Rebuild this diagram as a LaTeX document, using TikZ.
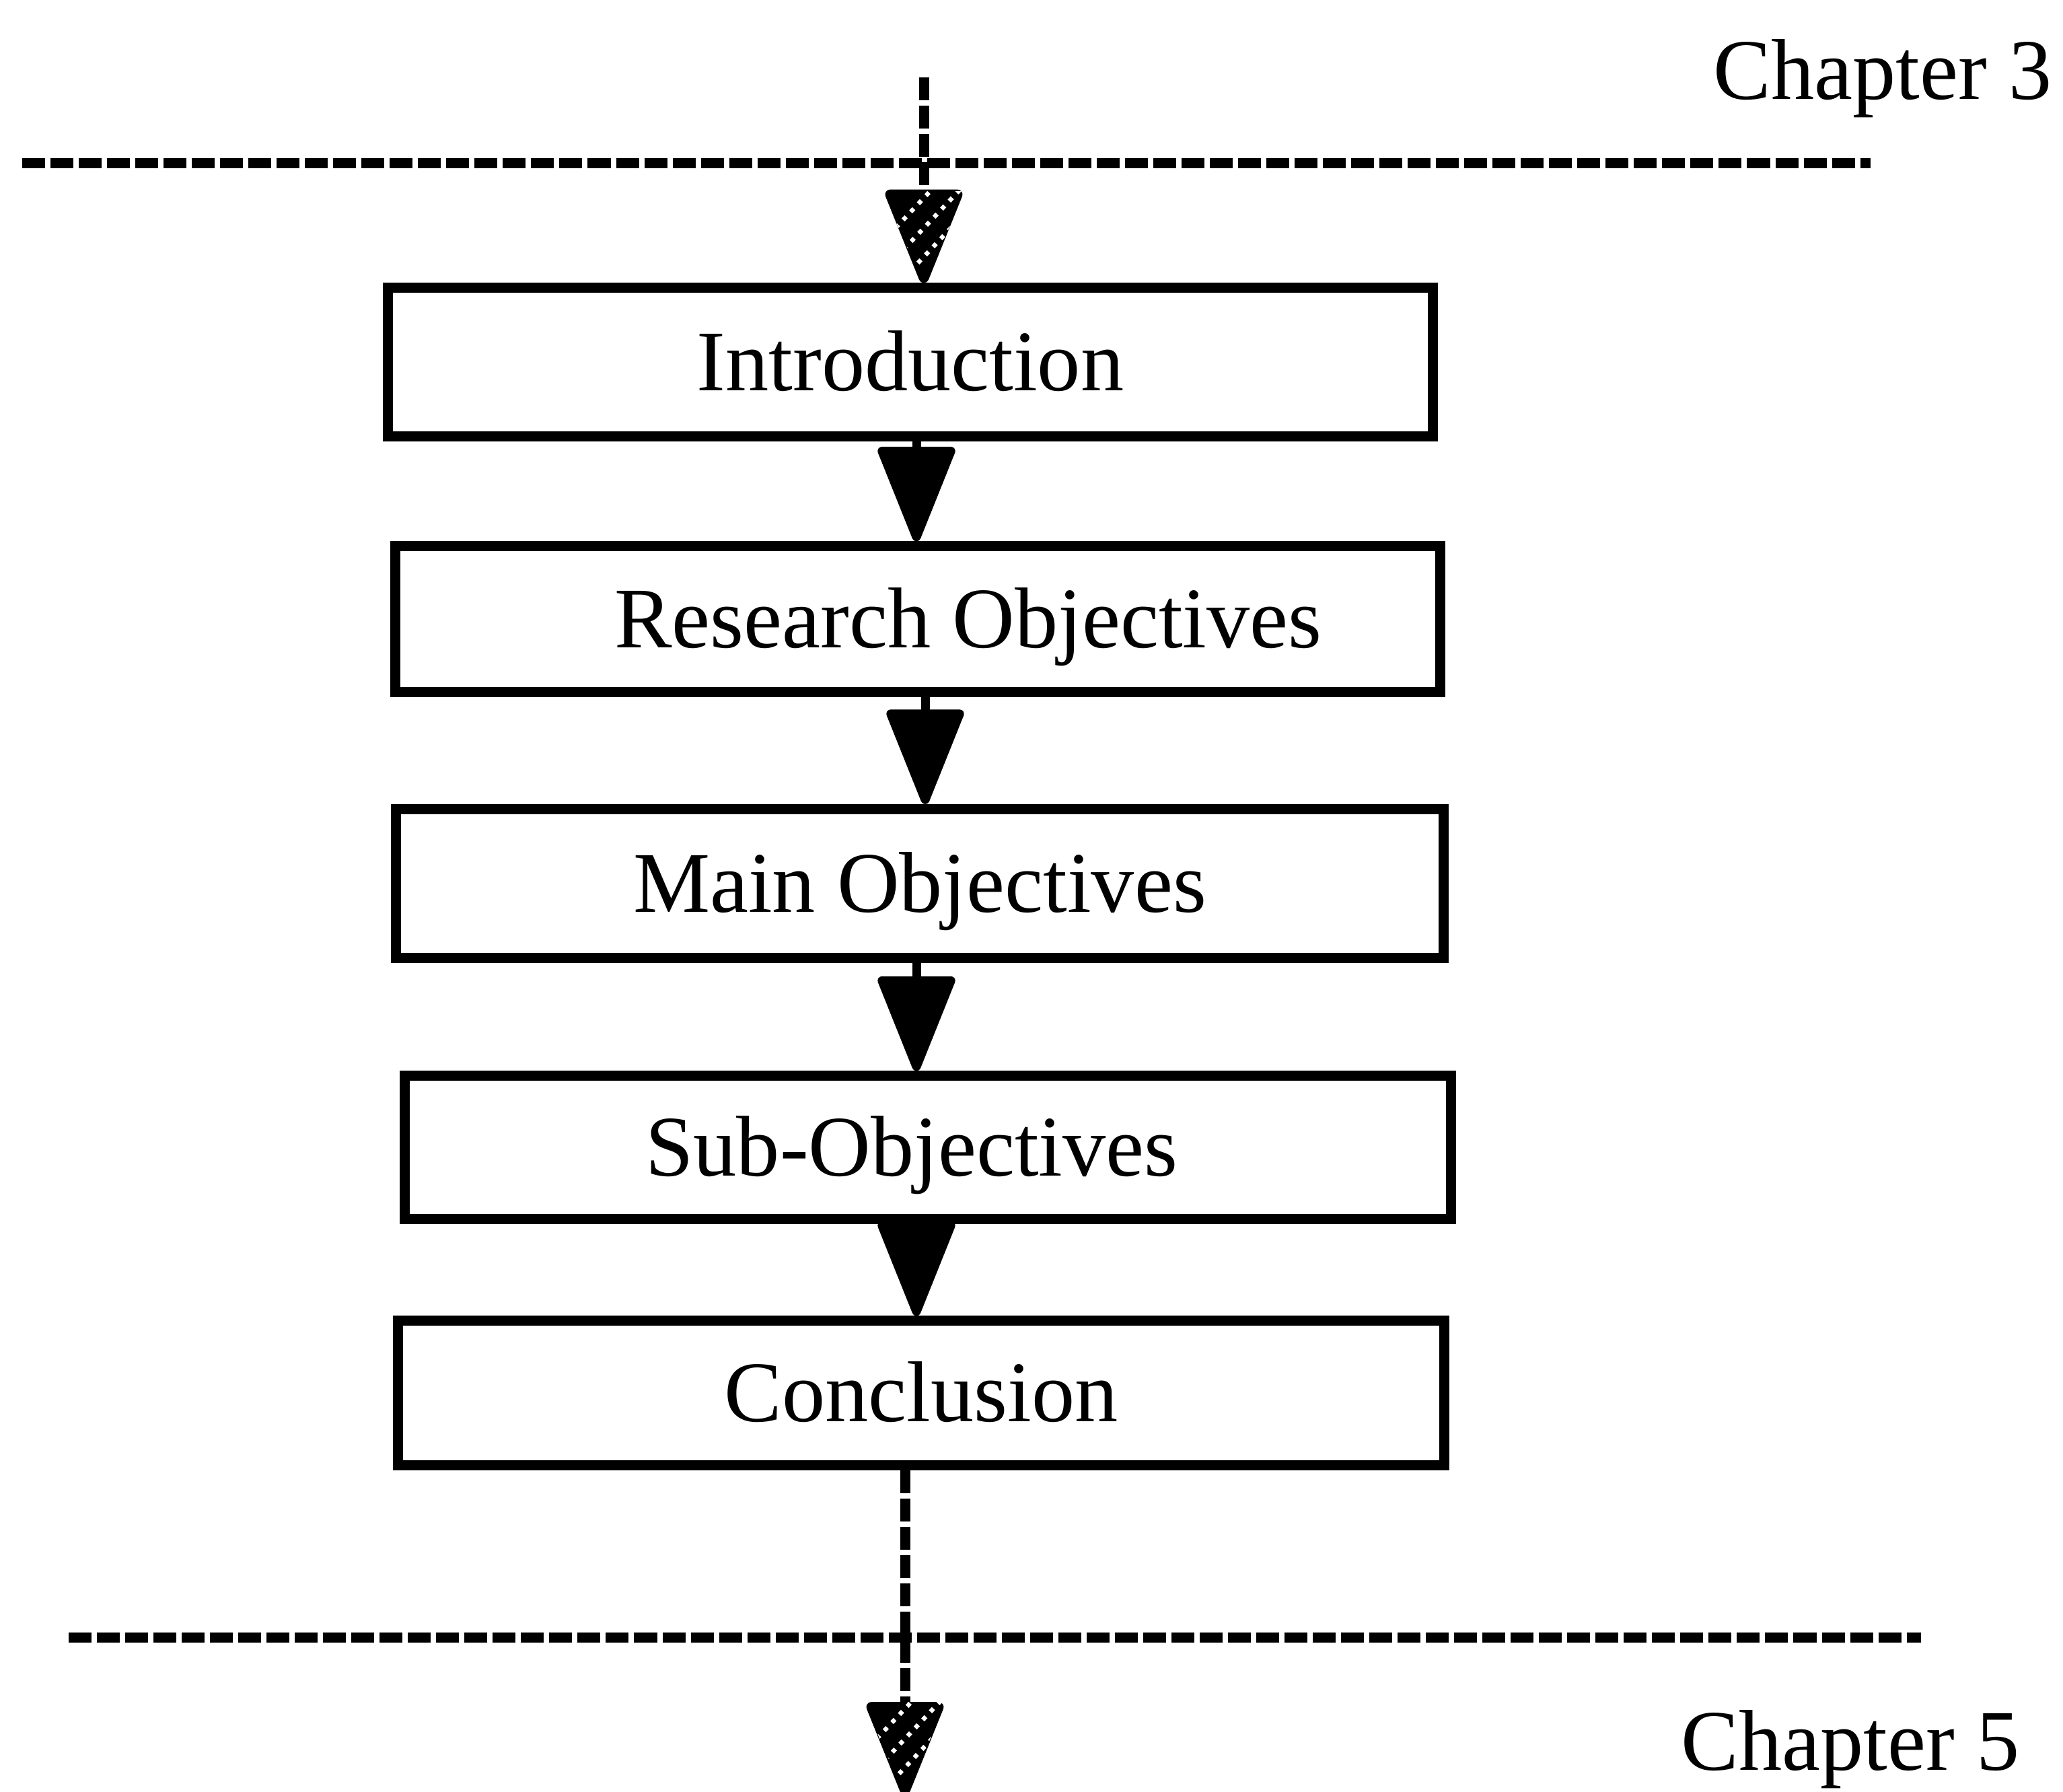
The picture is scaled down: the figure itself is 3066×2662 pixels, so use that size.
\documentclass[tikz,border=0pt]{standalone}
\usepackage{fontspec}
\setmainfont{Liberation Serif}
\usetikzlibrary{arrows.meta}

% white dotted hatching inside a downward arrow head: #1 = axis x, #2 = top y, #3 = apex y
\newcommand\hatchhead[3]{%
  \begin{scope}
    \clip (#1-62,#2-4) -- (#1+62,#2-4) -- (#1,#3) -- cycle;
    \foreach \dx/\dy in {-30/38,-18/70,-8/102}
      \draw[hatch] (#1+\dx-80,#2+\dy+85) -- (#1+\dx+80,#2+\dy-85);
  \end{scope}}

\begin{document}
\begin{tikzpicture}[x=0.01cm, y=-0.01cm,
  txt/.style={font=\fontsize{36.5}{40}\selectfont},
  box/.style={txt, draw, line width=0.15cm, inner sep=0pt,
              text height=24pt, text depth=0pt},
  head/.style={-{Triangle[width=1.18cm,length=1.52cm,round]}},
  flow/.style={line width=0.13cm, head},
  sep/.style={line width=0.15cm, dash pattern=on 0.34cm off 0.08cm},
  feed/.style={sep, head},
  hatch/.style={white, line width=0.065cm, dash pattern=on 0.065cm off 0.10cm},
  chap/.style={txt, inner sep=0pt, anchor=base east}]

\useasboundingbox (0,0) rectangle (3066,2662);

% chapter markers and separators
\node[chap] (ch3) at (3050,147) {Chapter 3};
\node[chap] (ch5) at (3002,2630) {Chapter 5};
\coordinate (topL) at (33,242);
\coordinate (topR) at (2780,242);
\coordinate (botL) at (102,2433);
\coordinate (botR) at (2855,2433);
\draw[sep] (topL) -- (topR);
\draw[sep] (botL) -- (botR);

% chapter flow boxes
\node[box, minimum width=15.53cm, minimum height=2.20cm] (intro) at (1353,538) {Introduction};
\node[box, minimum width=15.52cm, minimum height=2.16cm] (res)   at (1364,920) {\hspace*{1.5cm}Research Objectives};
\node[box, minimum width=15.57cm, minimum height=2.21cm] (main)  at (1367,1313) {Main Objectives};
\node[box, minimum width=15.55cm, minimum height=2.12cm] (sub)   at (1379,1705) {Sub-Objectives\hspace*{0.48cm}};
\node[box, minimum width=15.54cm, minimum height=2.14cm] (conc)  at (1369,2070) {Conclusion};

% links between boxes
\draw[flow] ([xshift=0.09cm]intro.south) -- ([xshift=0.09cm]intro.south |- res.north);
\draw[flow] ([xshift=0.11cm]res.south) -- ([xshift=0.11cm]res.south |- main.north);
\draw[flow] ([xshift=-0.05cm]main.south) -- ([xshift=-0.05cm]main.south |- sub.north);
\draw[flow] ([xshift=-0.17cm]sub.south) -- ([xshift=-0.17cm]sub.south |- conc.north);

% entry from the previous chapter
\coordinate (src) at (1373,115);
\draw[feed] (src) -- (src |- intro.north);
\hatchhead{1373}{288}{423}

% exit to the next chapter
\coordinate (dst) at (1345,2668);
\draw[feed] (dst |- conc.south) -- (dst);
\hatchhead{1345}{2533}{2668}

\end{tikzpicture}
\end{document}
